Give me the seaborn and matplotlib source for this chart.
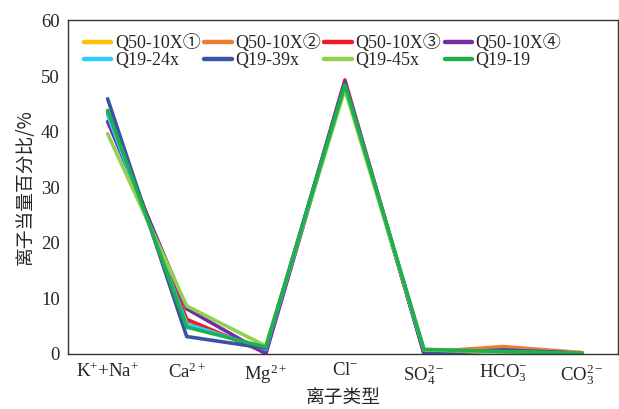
import matplotlib
matplotlib.use("Agg")
import matplotlib.pyplot as plt
import numpy as np
import pandas as pd
import seaborn as sns

# ____DATA____
ions = ["K$^{+}$+Na$^{+}$", "Ca$^{2+}$", "Mg$^{2+}$", "Cl$^{-}$",
        "SO$_4^{2-}$", "HCO$_3^{-}$", "CO$_3^{2-}$"]
samples = ["Q50-10X①", "Q50-10X②", "Q50-10X③", "Q50-10X④",
           "Q19-24x", "Q19-39x", "Q19-45x", "Q19-19"]
colors = ["#FFC000", "#ED7D31", "#EE1C25", "#7030A0",
          "#33CCFF", "#3A53A4", "#92D050", "#1DB04F"]

q50_1 = [43.4, 5.6, 0.6, 49.0, 0.3, 0.9, 0.2]
q50_2 = [43.5, 5.8, 0.5, 48.8, 0.3, 1.3, 0.2]
q50_3 = [43.6, 6.2, 0.2, 49.3, 0.0, 0.6, 0.0]
q50_4 = [41.8, 8.1, 0.0, 48.6, 0.2, 0.5, 0.1]
q19_24 = [43.0, 5.4, 0.8, 48.7, 0.5, 0.4, 0.1]
q19_39 = [45.9, 3.1, 1.0, 48.9, 0.1, 0.7, 0.1]
q19_45 = [39.6, 8.6, 1.4, 47.6, 0.7, 0.3, 0.1]
q19_19 = [43.8, 4.8, 1.2, 48.4, 0.8, 0.4, 0.1]

series = [q50_1, q50_2, q50_3, q50_4, q19_24, q19_39, q19_45, q19_19]

rows = []
for name, vals in zip(samples, series):
    for ion, v in zip(ions, vals):
        rows.append({"ion": ion, "value": v, "sample": name})
df = pd.DataFrame(rows)

# ____PLOT____
sns.set_style("white")
plt.rcParams["font.family"] = ["Liberation Serif", "Noto Sans CJK SC"]
plt.rcParams["mathtext.fontset"] = "custom"
plt.rcParams["mathtext.rm"] = "Liberation Serif"
plt.rcParams["mathtext.it"] = "Liberation Serif"

fig, ax = plt.subplots(figsize=(6.19, 4.09), dpi=100)
fig.subplots_adjust(left=0.110, right=0.998, top=0.950, bottom=0.135)

sns.lineplot(data=df, x="ion", y="value", hue="sample", hue_order=samples,
             palette=colors, linewidth=2.6, sort=False, ax=ax)

ax.set_ylim(0, 60)
ax.set_xlim(-0.5, 6.45)
ax.set_yticks(np.arange(0, 61, 10))
ax.tick_params(length=0, labelsize=13.5, pad=6)
ax.set_xlabel("离子类型", fontsize=13.5, family=["Noto Sans CJK SC"], labelpad=0)
ax.set_ylabel("离子当量百分比/%", fontsize=13.5, family=["Noto Sans CJK SC"], labelpad=4)

for sp in ax.spines.values():
    sp.set_visible(True)
    sp.set_color("#333333")
    sp.set_linewidth(1.0)

# legend filled row by row
handles, labels = ax.get_legend_handles_labels()
for h in handles:
    h.set_linewidth(3.2)
order = [0, 4, 1, 5, 2, 6, 3, 7]
ax.legend([handles[i] for i in order], [labels[i] for i in order],
          ncol=4, frameon=False, loc="upper left", bbox_to_anchor=(0.005, 1.0),
          handlelength=1.5, handletextpad=0.2,
          columnspacing=0.2, labelspacing=0.0, borderaxespad=0.35,
          prop={"family": ["Liberation Serif", "Noto Sans CJK SC"], "size": 13})

plt.savefig("out.png", dpi=100)
